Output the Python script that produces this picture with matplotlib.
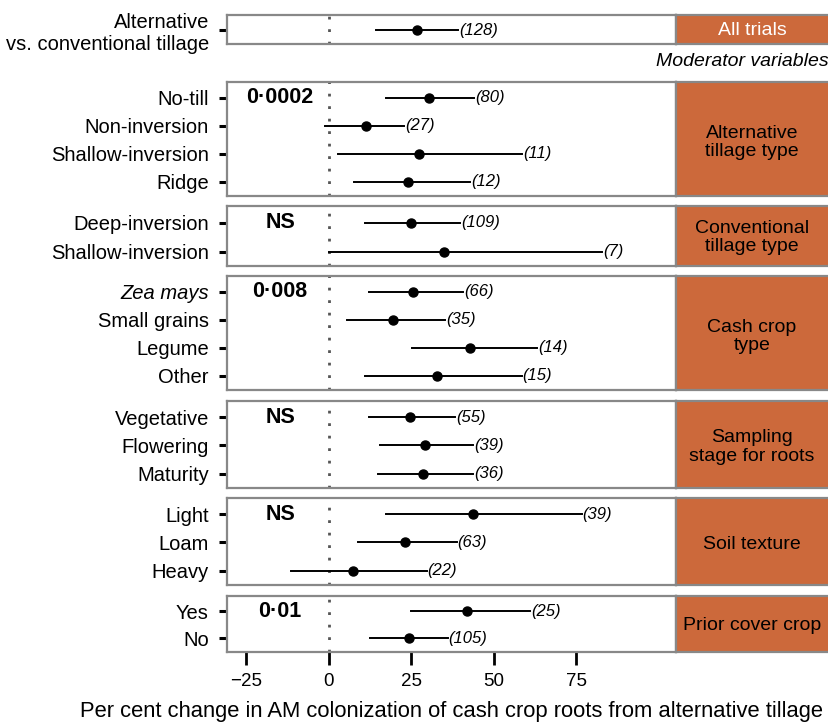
import matplotlib.pyplot as plt
import numpy as np

plt.rcParams['font.family'] = ['Liberation Sans', 'DejaVu Sans']

# data, one entry per row, top to bottom
row_labels = ["Alternative\nvs. conventional tillage",
              "No-till", "Non-inversion", "Shallow-inversion", "Ridge",
              "Deep-inversion", "Shallow-inversion",
              "Zea mays", "Small grains", "Legume", "Other",
              "Vegetative", "Flowering", "Maturity",
              "Light", "Loam", "Heavy",
              "Yes", "No"]
est = [26.8,
       30.5, 11.4, 27.4, 24.0,
       24.9, 35.1,
       25.5, 19.6, 42.9, 32.9,
       24.7, 29.1, 28.6,
       43.8, 23.2, 7.3,
       41.8, 24.4]
lower = [14.4,
         17.4, -1.0, 2.9, 7.7,
         10.9, 0.0,
         12.3, 5.5, 25.2, 10.9,
         12.3, 15.6, 15.0,
         17.3, 9.0, -11.4,
         25.0, 12.6]
upper = [39.2,
         44.0, 22.9, 58.6, 42.9,
         39.8, 82.8,
         40.8, 35.3, 63.1, 58.5,
         38.3, 43.8, 43.8,
         76.7, 38.8, 29.7,
         61.1, 36.1]
n_obs = [128,
         80, 27, 11, 12,
         109, 7,
         66, 35, 14, 15,
         55, 39, 36,
         39, 63, 22,
         25, 105]

group_sizes = [1, 4, 2, 4, 3, 3, 2]
group_names = ["All trials", "Alternative\ntillage type", "Conventional\ntillage type",
               "Cash crop\ntype", "Sampling\nstage for roots", "Soil texture",
               "Prior cover crop"]
p_values = ["", "0·0002", "NS", "0·008", "NS", "NS", "0·01"]

# panel boxes in pixels (top, bottom)
panel_px = [(15, 44), (82, 196), (206, 266), (276, 390), (401, 488), (498, 585), (596, 652)]

W, H = 829, 724
x_left, x_mid, x_right = 227, 676, 829
strip_col = '#CC693B'
edge_col = '#888888'

fig = plt.figure(figsize=(W / 100, H / 100), dpi=100)


def box(x0, y0, x1, y1):
    return [x0 / W, 1 - y1 / H, (x1 - x0) / W, (y1 - y0) / H]


start = 0
for g, (top, bot) in enumerate(panel_px):
    n = group_sizes[g]
    idx = list(range(start, start + n))
    start += n

    ax = fig.add_axes(box(x_left, top, x_mid, bot))
    ax.set_xlim(-30.8, 105.3)
    ax.set_ylim(n + 0.5, 0.43)
    ax.axvline(0, color='#555555', linestyle=(0, (1, 3.5)), linewidth=2, zorder=1)

    ys = np.arange(1, n + 1)
    for k, i in enumerate(idx):
        y = ys[k]
        ax.plot([lower[i], upper[i]], [y, y], color='black', linewidth=1.4, zorder=2)
        ax.plot(est[i], y, 'o', color='black', markersize=6.5, zorder=3)
        ax.text(upper[i] + 0.3, y, "(%d)" % n_obs[i], fontsize=12, style='italic',
                ha='left', va='center')

    ax.set_yticks(ys)
    ax.set_yticklabels([row_labels[i] for i in idx], fontsize=14.5)
    if g == 3:
        ax.get_yticklabels()[0].set_style('italic')
    ax.tick_params(axis='y', length=6, width=2.2, color='black', pad=7)

    if p_values[g]:
        ax.text(-14.7, 1, p_values[g], fontsize=15.5, fontweight='bold',
                ha='center', va='center')

    for sp in ax.spines.values():
        sp.set_color(edge_col)
        sp.set_linewidth(1.6)

    if g == len(panel_px) - 1:
        ax.set_xticks([-25, 0, 25, 50, 75])
        ax.set_xticklabels(['\u221225', '0', '25', '50', '75'], fontsize=13.5)
        ax.tick_params(axis='x', length=9, width=2, color='black', pad=6)
    else:
        ax.set_xticks([])

    # strip on the right
    sx = fig.add_axes(box(x_mid, top, x_right + 2, bot))
    sx.set_facecolor(strip_col)
    sx.set_xticks([])
    sx.set_yticks([])
    for sp in sx.spines.values():
        sp.set_color(edge_col)
        sp.set_linewidth(1.6)
    sx.text(0.49, 0.47, group_names[g], transform=sx.transAxes, fontsize=14,
            ha='center', va='center', linespacing=1.1,
            color='white' if g == 0 else 'black')

fig.text(829 / W, 1 - 62 / H, "Moderator variables", fontsize=14, style='italic',
         ha='right', va='center')
fig.text(452 / W, 1 - 712 / H,
         "Per cent change in AM colonization of cash crop roots from alternative tillage",
         fontsize=15.8, ha='center', va='center')

fig.savefig('out.png', dpi=100)
